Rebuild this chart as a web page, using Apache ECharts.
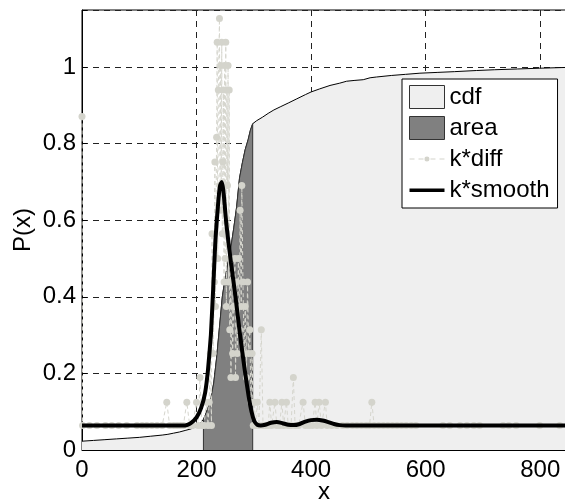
<!DOCTYPE html>
<html>
<head>
<meta charset="utf-8">
<script src="https://cdn.jsdelivr.net/npm/echarts@6/dist/echarts.min.js"></script>
<style>
html,body{margin:0;padding:0;background:#fff;}
#chart{width:565px;height:502px;}
</style>
</head>
<body>
<div id="chart"></div>
<script>
// ---- data ----
const xTicks = [0, 200, 400, 600, 800];
const yTicks = [0, 0.2, 0.4, 0.6, 0.8, 1];
const seriesNames = ['cdf', 'area', 'k*diff', 'k*smooth'];

const cdfX = [0, 20, 40, 60, 80, 100, 120, 140, 150, 160, 170, 180, 190, 200, 205, 212, 215, 220, 225, 230, 235, 240, 245, 250, 255, 260, 265, 270, 275, 280, 285, 290, 294, 298, 305, 315, 325, 335, 346, 360, 375, 390, 400, 415, 433, 450, 462, 475, 491, 503, 514, 540, 565, 590, 620, 650, 689, 720, 760, 799, 845];
const cdfY = [0.023, 0.025, 0.027, 0.029, 0.031, 0.033, 0.036, 0.039, 0.041, 0.044, 0.047, 0.051, 0.055, 0.062, 0.068, 0.080, 0.090, 0.110, 0.135, 0.175, 0.240, 0.320, 0.400, 0.450, 0.490, 0.530, 0.580, 0.635, 0.710, 0.750, 0.785, 0.810, 0.835, 0.852, 0.860, 0.869, 0.879, 0.888, 0.896, 0.906, 0.917, 0.928, 0.935, 0.943, 0.952, 0.958, 0.963, 0.965, 0.967, 0.972, 0.974, 0.978, 0.981, 0.984, 0.986, 0.988, 0.991, 0.993, 0.995, 0.997, 0.999];

const areaStart = 212;
const areaEnd = 298;

const diffX = [0, 1, 13, 26, 41, 52, 64, 78, 96, 105, 113, 122, 131, 140, 148, 153, 160, 166, 172, 177, 183, 188, 193, 200, 203, 206, 209, 213, 217, 220, 222, 224, 226, 227, 229, 231, 232, 233, 235, 236, 237, 238, 240, 241, 242, 243, 244, 245, 246, 247, 248, 249, 250, 251, 252, 253, 254, 255, 256, 257, 258, 259, 260, 262, 263, 265, 267, 268, 270, 271, 273, 275, 276, 278, 279, 281, 283, 285, 287, 289, 291, 293, 295, 297, 299, 301, 303, 306, 309, 313, 316, 320, 325, 328, 331, 337, 340, 345, 349, 352, 357, 360, 365, 369, 372, 378, 386, 390, 396, 402, 407, 410, 414, 418, 425, 428, 436, 445, 455, 463, 472, 480, 488, 496, 502, 506, 510, 518, 526, 534, 542, 550, 558, 566, 575, 583, 630, 642, 660, 672, 684, 694, 735, 745, 758, 799, 834];
const diffY = [0.871, 0.064, 0.064, 0.064, 0.064, 0.064, 0.064, 0.064, 0.064, 0.064, 0.064, 0.064, 0.064, 0.064, 0.125, 0.064, 0.064, 0.064, 0.064, 0.064, 0.125, 0.064, 0.064, 0.125, 0.064, 0.189, 0.064, 0.064, 0.125, 0.064, 0.125, 0.252, 0.064, 0.565, 0.252, 0.439, 0.752, 0.375, 0.817, 1.065, 0.500, 0.940, 1.127, 0.691, 1.004, 0.626, 1.065, 0.565, 0.752, 0.940, 0.439, 1.004, 0.500, 1.065, 0.375, 0.940, 0.691, 1.004, 0.439, 0.940, 0.314, 0.500, 0.189, 0.439, 0.252, 0.375, 0.500, 0.189, 0.439, 0.252, 0.500, 0.314, 0.626, 0.375, 0.691, 0.439, 0.252, 0.375, 0.189, 0.439, 0.252, 0.314, 0.125, 0.252, 0.064, 0.125, 0.064, 0.125, 0.064, 0.314, 0.064, 0.064, 0.064, 0.125, 0.064, 0.125, 0.064, 0.064, 0.125, 0.064, 0.125, 0.064, 0.064, 0.189, 0.064, 0.064, 0.125, 0.064, 0.064, 0.064, 0.125, 0.064, 0.125, 0.064, 0.125, 0.064, 0.064, 0.064, 0.064, 0.064, 0.064, 0.064, 0.064, 0.064, 0.064, 0.125, 0.064, 0.064, 0.064, 0.064, 0.064, 0.064, 0.064, 0.064, 0.064, 0.064, 0.064, 0.064, 0.064, 0.064, 0.064, 0.064, 0.064, 0.064, 0.064, 0.064, 0.064];

const smoothX = [0, 100, 180, 190, 200, 208, 215, 220, 225, 229, 233, 238, 241, 244, 247, 252, 260, 268, 276, 284, 291, 296, 301, 306, 312, 320, 330, 340, 350, 360, 370, 380, 390, 400, 410, 420, 430, 440, 450, 460, 845];
const smoothY = [0.064, 0.064, 0.064, 0.070, 0.085, 0.110, 0.150, 0.210, 0.300, 0.420, 0.550, 0.650, 0.690, 0.700, 0.675, 0.590, 0.490, 0.400, 0.300, 0.210, 0.140, 0.100, 0.075, 0.066, 0.064, 0.066, 0.071, 0.073, 0.070, 0.066, 0.065, 0.068, 0.074, 0.078, 0.079, 0.077, 0.073, 0.068, 0.065, 0.064, 0.064];

// ---- build ----
const pairs = (xs, ys) => xs.map((x, i) => [x, ys[i]]);
const cdfData = pairs(cdfX, cdfY);
const areaData = [[areaStart, 0]]
  .concat(cdfData.filter(p => p[0] >= areaStart && p[0] <= areaEnd))
  .concat([[areaEnd, 0]]);

const FONT = "'Liberation Sans', Arial, Helvetica, sans-serif";
const chart = echarts.init(document.getElementById('chart'), null, {renderer: 'canvas'});

const gridLine = {show: true, lineStyle: {color: '#222', width: 1, type: [6, 5]}};

chart.setOption({
  animation: false,
  backgroundColor: '#fff',
  grid: {left: 82, right: -1, top: 10, bottom: 52, containLabel: false, outerBoundsMode: 'none',
    show: true, borderColor: '#000', borderWidth: 1, backgroundColor: 'transparent'},
  xAxis: {
    type: 'value', min: 0, max: 845, interval: 200,
    name: 'x', nameLocation: 'middle', nameGap: 30, nameMoveOverlap: false,
    nameTextStyle: {fontSize: 24, fontFamily: FONT, color: '#000'},
    axisLine: {show: true, lineStyle: {color: '#000', width: 1}},
    axisTick: {show: true, inside: true, length: 5, lineStyle: {color: '#000'}},
    axisLabel: {margin: 8, fontSize: 24, fontFamily: FONT, color: '#000', hideOverlap: false,
      formatter: v => xTicks.indexOf(v) >= 0 ? String(v) : ''},
    splitLine: gridLine
  },
  yAxis: {
    type: 'value', min: 0, max: 1.149, interval: 0.2,
    name: 'P(x)', nameLocation: 'middle', nameGap: 47, nameRotate: 90, nameMoveOverlap: false,
    nameTextStyle: {fontSize: 24, fontFamily: FONT, color: '#000'},
    axisLine: {show: true, lineStyle: {color: '#000', width: 1}},
    axisTick: {show: true, inside: true, length: 5, lineStyle: {color: '#000'}},
    axisLabel: {margin: 6, fontSize: 24, fontFamily: FONT, color: '#000', hideOverlap: false,
      formatter: v => { const t = yTicks.find(t => Math.abs(t - v) < 1e-6); return t === undefined ? '' : String(t); }},
    splitLine: gridLine
  },
  legend: {
    orient: 'vertical', left: 402, top: 79,
    backgroundColor: '#fff', borderColor: '#000', borderWidth: 1,
    padding: [6, 8, 6, 7], itemWidth: 35, itemHeight: 23, itemGap: 7,
    textStyle: {fontSize: 24, fontFamily: FONT, color: '#000'},
    selectedMode: false,
    data: [
      {name: seriesNames[0], icon: 'rect', itemStyle: {color: '#efefef', borderColor: '#333', borderWidth: 1}},
      {name: seriesNames[1], icon: 'rect', itemStyle: {color: '#808080', borderColor: '#333', borderWidth: 1}},
      {name: seriesNames[2], icon: 'path://M0 11h5v1H0z M9 11h5v1H9z M21 11h5v1h-5z M30 11h5v1h-5z M15 11.5a2.5 2.5 0 1 0 5 0a2.5 2.5 0 1 0 -5 0z M0 0h0.01v0.01H0z M0 23h0.01v0.01H0z', itemStyle: {color: '#d4d4cc'}},
      {name: seriesNames[3], icon: 'path://M0 10h35v3.5H0z M0 0h0.01v0.01H0z M0 23h0.01v0.01H0z', itemStyle: {color: '#000'}}
    ]
  },
  series: [
    {
      name: seriesNames[0], type: 'line', data: cdfData, symbol: 'none', silent: true,
      lineStyle: {color: '#000', width: 1}, itemStyle: {color: '#efefef'},
      areaStyle: {color: '#efefef', opacity: 1}, z: 1
    },
    {
      name: seriesNames[1], type: 'line', data: areaData, symbol: 'none', silent: true,
      lineStyle: {color: '#333', width: 1}, itemStyle: {color: '#808080'},
      areaStyle: {color: '#808080', opacity: 1}, z: 2
    },
    {
      name: seriesNames[2], type: 'line', data: pairs(diffX, diffY), silent: true,
      symbol: 'circle', symbolSize: 7, showSymbol: true, showAllSymbol: true,
      lineStyle: {color: '#d6d6ce', width: 1, type: [4, 3]},
      itemStyle: {color: '#d4d4cc'}, z: 3
    },
    {
      name: seriesNames[3], type: 'line', data: pairs(smoothX, smoothY), silent: true,
      symbol: 'none', smooth: 0.15,
      lineStyle: {color: '#000', width: 4}, itemStyle: {color: '#000'}, z: 4
    }
  ]
});
</script>
</body>
</html>
